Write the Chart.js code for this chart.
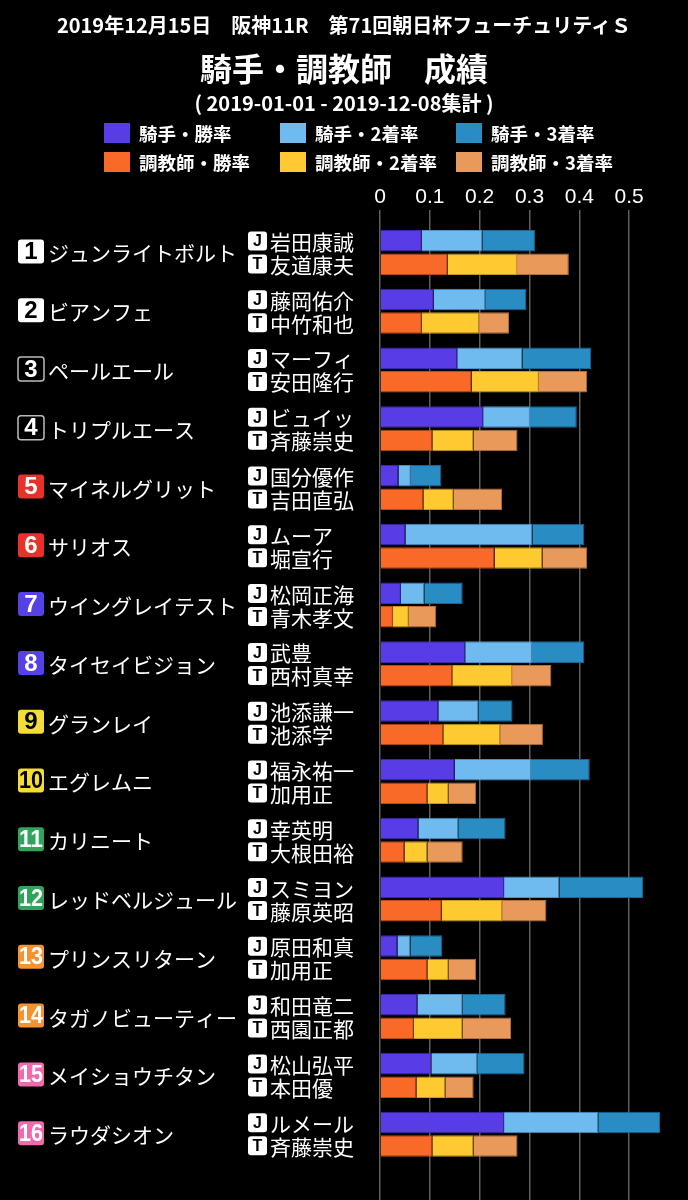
<!DOCTYPE html>
<html lang="ja">
<head>
<meta charset="utf-8">
<script src="https://cdn.jsdelivr.net/npm/chart.js@4.4.1/dist/chart.umd.min.js"></script>
<style>
  body { margin: 0; background: #000; }
  #wrap { position: relative; width: 688px; height: 1200px; background: #000; overflow: hidden;
          font-family: "Noto Sans CJK JP", "Noto Sans", sans-serif; color: #fff; }
  #chartBox { position: absolute; left: 0; top: 0; width: 688px; height: 1200px; }
  .t { position: absolute; left: 0; width: 688px; text-align: center; white-space: nowrap; }
  #t1 { top: 11px; font-size: 20px; line-height: 28px; font-weight: 700; }
  #t2 { top: 47px; font-size: 32px; line-height: 40px; font-weight: 700; }
  #t3 { top: 89px; font-size: 20px; line-height: 28px; font-weight: 700; }
  .lg { position: absolute; font-size: 18.5px; font-weight: 700; white-space: nowrap; line-height: 20px; }
  .lg span { display: inline-block; width: 26px; height: 20px; vertical-align: top; margin-right: 9px; }
</style>
</head>
<body>
<div id="wrap">
  <div id="chartBox"><canvas id="canvas_grafico"></canvas></div>
  <div class="t" id="t1">2019年12月15日　阪神11R　第71回朝日杯フューチュリティＳ</div>
  <div class="t" id="t2">騎手・調教師　成績</div>
  <div class="t" id="t3">( 2019-01-01 - 2019-12-08集計 )</div>
  <div id="legend"></div>
</div>
<script>
// 出走馬・騎手・調教師
const horseNames = ['ジュンライトボルト', 'ビアンフェ', 'ペールエール', 'トリプルエース',
  'マイネルグリット', 'サリオス', 'ウイングレイテスト', 'タイセイビジョン',
  'グランレイ', 'エグレムニ', 'カリニート', 'レッドベルジュール',
  'プリンスリターン', 'タガノビューティー', 'メイショウチタン', 'ラウダシオン'];
const jockeys = ['岩田康誠', '藤岡佑介', 'マーフィ', 'ビュイッ', '国分優作', 'ムーア', '松岡正海', '武豊',
  '池添謙一', '福永祐一', '幸英明', 'スミヨン', '原田和真', '和田竜二', '松山弘平', 'ルメール'];
const trainers = ['友道康夫', '中竹和也', '安田隆行', '斉藤崇史', '吉田直弘', '堀宣行', '青木孝文', '西村真幸',
  '池添学', '加用正', '大根田裕', '藤原英昭', '加用正', '西園正都', '本田優', '斉藤崇史'];

// 騎手 (勝率 / 2着率 / 3着率)
const jockeyWin = [0.084, 0.108, 0.155, 0.207, 0.037, 0.051, 0.042, 0.171, 0.117, 0.150, 0.077, 0.249, 0.035, 0.075, 0.103, 0.249];
const jockeySecond = [0.122, 0.103, 0.131, 0.094, 0.025, 0.255, 0.047, 0.134, 0.081, 0.153, 0.080, 0.111, 0.026, 0.091, 0.092, 0.189];
const jockeyThird = [0.105, 0.083, 0.138, 0.094, 0.061, 0.104, 0.077, 0.105, 0.068, 0.118, 0.095, 0.168, 0.064, 0.086, 0.095, 0.124];

// 調教師 (勝率 / 2着率 / 3着率)
const trainerWin = [0.136, 0.084, 0.184, 0.105, 0.087, 0.230, 0.026, 0.145, 0.127, 0.095, 0.049, 0.124, 0.095, 0.068, 0.073, 0.105];
const trainerSecond = [0.139, 0.115, 0.135, 0.083, 0.061, 0.096, 0.032, 0.120, 0.114, 0.043, 0.046, 0.121, 0.043, 0.098, 0.058, 0.083];
const trainerThird = [0.104, 0.060, 0.097, 0.088, 0.097, 0.090, 0.055, 0.079, 0.086, 0.055, 0.071, 0.089, 0.055, 0.097, 0.057, 0.088];

const xTicks = [0, 0.1, 0.2, 0.3, 0.4, 0.5];

const seriesNames = ['騎手・勝率', '騎手・2着率', '騎手・3着率', '調教師・勝率', '調教師・2着率', '調教師・3着率'];
const seriesColors = ['#583de6', '#6fbbef', '#298cc3', '#f96a28', '#ffc932', '#e99a5b'];
const seriesBorders = ['#3b28a8', '#4d8fc0', '#1b6496', '#b84a18', '#c89820', '#b07040'];

// 枠番の色
const frameFill = ['#ffffff', '#000000', '#e8312b', '#5641e6', '#f3dc37', '#2fa45a', '#f59333', '#f06aae'];
const frameText = ['#000000', '#ffffff', '#ffffff', '#ffffff', '#000000', '#ffffff', '#ffffff', '#ffffff'];

function toPoints(values) {
    return values.map((v, i) => ({ x: v, y: i }));
}

function roundBox(ctx, x, y, w, h, r) {
    ctx.beginPath();
    ctx.moveTo(x + r, y);
    ctx.lineTo(x + w - r, y);
    ctx.quadraticCurveTo(x + w, y, x + w, y + r);
    ctx.lineTo(x + w, y + h - r);
    ctx.quadraticCurveTo(x + w, y + h, x + w - r, y + h);
    ctx.lineTo(x + r, y + h);
    ctx.quadraticCurveTo(x, y + h, x, y + h - r);
    ctx.lineTo(x, y + r);
    ctx.quadraticCurveTo(x, y, x + r, y);
    ctx.closePath();
}

// 馬番・馬名・騎手・調教師を左側に描く
const rowLabels = {
    id: 'rowLabels',
    afterDraw(chart) {
        const ctx = chart.ctx;
        const yScale = chart.scales.y;
        ctx.save();
        horseNames.forEach((name, i) => {
            const cy = yScale.getPixelForValue(i);
            const frame = Math.floor(i / 2);

            // 馬番
            ctx.fillStyle = frameFill[frame];
            roundBox(ctx, 18, cy - 13, 26, 24, 3);
            ctx.fill();
            if (frame === 1) {
                ctx.strokeStyle = '#bbbbbb';
                ctx.lineWidth = 1.5;
                ctx.stroke();
            }
            ctx.fillStyle = frameText[frame];
            ctx.font = 'bold 24px "Liberation Sans", Arial, sans-serif';
            ctx.textAlign = 'center';
            ctx.textBaseline = 'middle';
            ctx.fillText(String(i + 1), 31, cy, 24);

            // 馬名
            ctx.fillStyle = '#ffffff';
            ctx.font = '21px "Noto Sans CJK JP", sans-serif';
            ctx.textAlign = 'left';
            ctx.fillText(name, 48, cy + 1);

            // 騎手 / 調教師
            [['J', jockeys[i], cy - 11.5], ['T', trainers[i], cy + 11.5]].forEach(([mark, person, ty]) => {
                ctx.fillStyle = '#ffffff';
                roundBox(ctx, 248, ty - 9.5, 19, 19, 3);
                ctx.fill();
                ctx.fillStyle = '#000000';
                ctx.font = 'bold 16px "Liberation Sans", Arial, sans-serif';
                ctx.textAlign = 'center';
                ctx.fillText(mark, 257.5, ty + 1);
                ctx.fillStyle = '#ffffff';
                ctx.font = '21px "Noto Sans CJK JP", sans-serif';
                ctx.textAlign = 'left';
                ctx.fillText(person, 270, ty + 1);
            });
        });
        ctx.restore();
    }
};

function makeLegend() {
    const box = document.getElementById('legend');
    seriesNames.forEach((name, i) => {
        const item = document.createElement('div');
        item.className = 'lg';
        item.style.left = (104 + (i % 3) * 176) + 'px';
        item.style.top = (i < 3 ? 123 : 152) + 'px';
        item.innerHTML = '<span style="background:' + seriesColors[i] + '"></span>' + name;
        box.appendChild(item);
    });
}

function grafico_rendimento() {
    const values = [jockeyWin, jockeySecond, jockeyThird, trainerWin, trainerSecond, trainerThird];
    const ctx = document.getElementById('canvas_grafico').getContext('2d');
    new Chart(ctx, {
        type: 'bar',
        data: {
            datasets: values.map((vals, k) => ({
                label: seriesNames[k],
                data: toPoints(vals),
                stack: k < 3 ? 'jockey' : 'trainer',
                backgroundColor: seriesColors[k],
                borderColor: seriesBorders[k],
                borderWidth: 1,
                categoryPercentage: 0.8,
                barPercentage: 0.915
            }))
        },
        options: {
            indexAxis: 'y',
            responsive: true,
            maintainAspectRatio: false,
            animation: false,
            layout: {
                padding: { left: 380, right: 24, top: 178, bottom: 0 }
            },
            scales: {
                x: {
                    type: 'linear',
                    position: 'top',
                    stacked: true,
                    min: 0,
                    max: 0.57,
                    afterFit: function(scale) { scale.height = 45; },
                    afterBuildTicks: function(scale) {
                        scale.ticks = xTicks.map(v => ({ value: v }));
                    },
                    ticks: {
                        color: '#ffffff',
                        padding: 0,
                        font: { size: 21, family: '"Liberation Sans", Arial, sans-serif' },
                        callback: v => String(v)
                    },
                    grid: {
                        color: '#5e5e5e',
                        lineWidth: 1.5,
                        tickLength: 13
                    },
                    border: { display: false }
                },
                y: {
                    type: 'linear',
                    reverse: true,
                    stacked: true,
                    offset: false,
                    min: -0.5,
                    max: 16.12,
                    display: false,
                    afterBuildTicks: function(scale) {
                        // 1頭ごとの間隔でバーの太さを決める
                        scale.ticks = horseNames.map((n, i) => ({ value: i }));
                    }
                }
            },
            plugins: {
                legend: { display: false },
                tooltip: { enabled: false }
            }
        },
        plugins: [rowLabels]
    });
}

makeLegend();
grafico_rendimento();
</script>
</body>
</html>
